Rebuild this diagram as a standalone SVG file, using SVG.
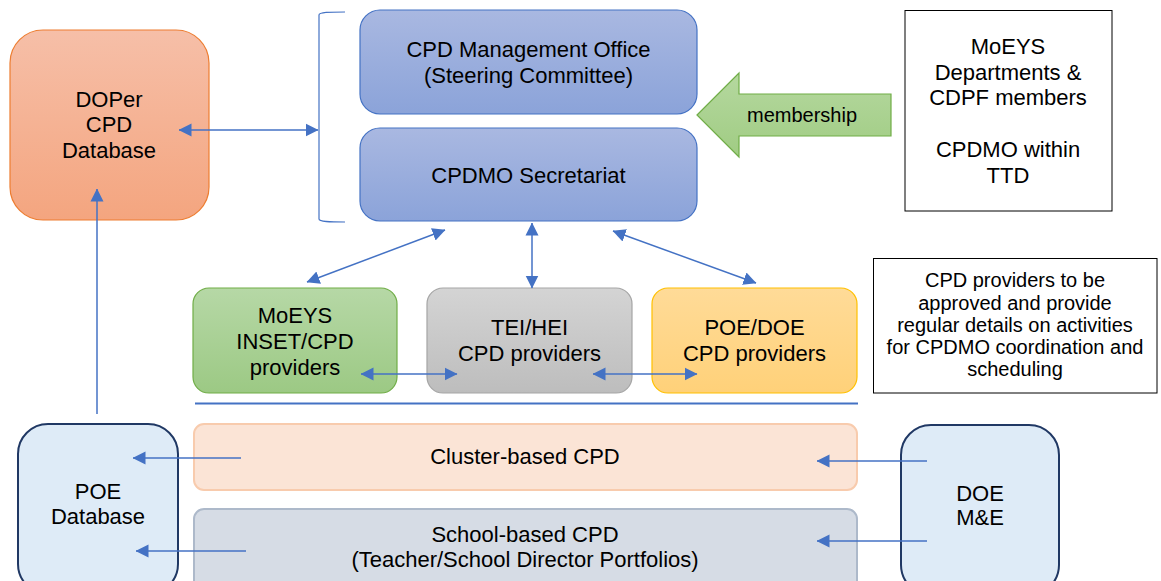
<svg xmlns="http://www.w3.org/2000/svg" width="1161" height="581" viewBox="0 0 1161 581">
<defs>
<linearGradient id="gOrange" x1="0" y1="0" x2="0" y2="1"><stop offset="0" stop-color="#F6BFA8"/><stop offset="1" stop-color="#F4A57F"/></linearGradient>
<linearGradient id="gBlue" x1="0" y1="0" x2="0" y2="1"><stop offset="0" stop-color="#A9B8E1"/><stop offset="1" stop-color="#8BA3D9"/></linearGradient>
<linearGradient id="gGreen" x1="0" y1="0" x2="0" y2="1"><stop offset="0" stop-color="#B6D8A6"/><stop offset="1" stop-color="#9CC984"/></linearGradient>
<linearGradient id="gGrey" x1="0" y1="0" x2="0" y2="1"><stop offset="0" stop-color="#D4D4D4"/><stop offset="1" stop-color="#BDBDBD"/></linearGradient>
<linearGradient id="gGold" x1="0" y1="0" x2="0" y2="1"><stop offset="0" stop-color="#FFDB98"/><stop offset="1" stop-color="#FFD179"/></linearGradient>
<linearGradient id="gMember" x1="0" y1="0" x2="0" y2="1"><stop offset="0" stop-color="#B5D89F"/><stop offset="1" stop-color="#A0CC83"/></linearGradient>
<marker id="ah" markerUnits="userSpaceOnUse" viewBox="0 0 13 14" markerWidth="13" markerHeight="14" refX="12.5" refY="7" orient="auto-start-reverse">
<path d="M0,0.5 L13,7 L0,13.5 Z" fill="#4472C4"/>
</marker>
<style>
text{font-family:"Liberation Sans",Arial,sans-serif;fill:#000;text-anchor:middle}
.t22{font-size:22px}
.t20{font-size:20px}
.conn{stroke:#4472C4;stroke-width:1.5;fill:none}
</style>
</defs>

<g id="doper">
<rect x="10" y="30" width="199" height="190" rx="33" fill="url(#gOrange)" stroke="#ED7D31" stroke-width="1.2"/>
<text class="t22" x="109" y="107">DOPer</text>
<text class="t22" x="109" y="132">CPD</text>
<text class="t22" x="109" y="158">Database</text>
</g>

<g id="bracket">
<path d="M345,12 C330,12 319,12 319,15 L319,219 C319,222 330,222 345,222" fill="none" stroke="#4472C4" stroke-width="1.2"/>
</g>

<g id="cpd-mo">
<rect x="360" y="10" width="337" height="104" rx="20" fill="url(#gBlue)" stroke="#4472C4" stroke-width="1.2"/>
<text class="t22" x="528.5" y="57">CPD Management Office</text>
<text class="t22" x="528.5" y="83">(Steering Committee)</text>
</g>

<g id="cpdmo-secretariat">
<rect x="360" y="128" width="337" height="93" rx="20" fill="url(#gBlue)" stroke="#4472C4" stroke-width="1.2"/>
<text class="t22" x="528.5" y="183">CPDMO Secretariat</text>
</g>

<g id="membership">
<polygon points="697,115 739,73 739,94 891,94 891,136 739,136 739,157" fill="url(#gMember)" stroke="#70AD47" stroke-width="1.2"/>
<text class="t20" x="802" y="122">membership</text>
</g>

<g id="moeys-departments">
<rect x="905" y="10.5" width="207" height="200.5" fill="#FFFFFF" stroke="#000" stroke-width="1"/>
<text class="t22" x="1008" y="54">MoEYS</text>
<text class="t22" x="1008" y="80">Departments &amp;</text>
<text class="t22" x="1008" y="105">CDPF members</text>
<text class="t22" x="1008" y="157">CPDMO within</text>
<text class="t22" x="1008" y="183">TTD</text>
</g>

<g id="moeys-inset">
<rect x="193" y="288" width="204" height="105" rx="16" fill="url(#gGreen)" stroke="#70AD47" stroke-width="1.2"/>
<text class="t22" x="295" y="323">MoEYS</text>
<text class="t22" x="295" y="349">INSET/CPD</text>
<text class="t22" x="295" y="375">providers</text>
</g>

<g id="tei-hei">
<rect x="427" y="288" width="205" height="105" rx="16" fill="url(#gGrey)" stroke="#A5A5A5" stroke-width="1.2"/>
<text class="t22" x="529.5" y="335">TEI/HEI</text>
<text class="t22" x="529.5" y="361">CPD providers</text>
</g>

<g id="poe-doe">
<rect x="652" y="288" width="205" height="105" rx="16" fill="url(#gGold)" stroke="#FFC000" stroke-width="1.2"/>
<text class="t22" x="754.5" y="335">POE/DOE</text>
<text class="t22" x="754.5" y="361">CPD providers</text>
</g>

<g id="note">
<rect x="873.5" y="258.5" width="283.5" height="134.5" fill="#FFFFFF" stroke="#000" stroke-width="1"/>
<text class="t20" x="1015" y="287">CPD providers to be</text>
<text class="t20" x="1015" y="309.5">approved and provide</text>
<text class="t20" x="1015" y="332">regular details on activities</text>
<text class="t20" x="1015" y="354">for CPDMO coordination and</text>
<text class="t20" x="1015" y="376">scheduling</text>
</g>

<g id="separator">
<line x1="195" y1="403.5" x2="858" y2="403.5" stroke="#4472C4" stroke-width="2"/>
</g>

<g id="cluster-cpd">
<rect x="194" y="424" width="663" height="66" rx="10" fill="#FBE4D6" stroke="#F8CBAD" stroke-width="2"/>
<text class="t22" x="525" y="464">Cluster-based CPD</text>
</g>

<g id="school-cpd">
<rect x="194" y="509" width="663" height="90" rx="10" fill="#D6DCE5" stroke="#ADB9CA" stroke-width="2"/>
<text class="t22" x="525" y="542">School-based CPD</text>
<text class="t22" x="525" y="567">(Teacher/School Director Portfolios)</text>
</g>

<g id="poe-database">
<rect x="18" y="424" width="160" height="170" rx="30" fill="#DEEBF7" stroke="#203864" stroke-width="2"/>
<text class="t22" x="98" y="499">POE</text>
<text class="t22" x="98" y="524">Database</text>
</g>

<g id="doe-me">
<rect x="901" y="425" width="158" height="170" rx="30" fill="#DEEBF7" stroke="#203864" stroke-width="2"/>
<text class="t22" x="980" y="501">DOE</text>
<text class="t22" x="980" y="525">M&amp;E</text>
</g>

<g id="connectors">
<line class="conn" x1="179" y1="130" x2="318" y2="130" marker-start="url(#ah)" marker-end="url(#ah)"/>
<line class="conn" x1="97" y1="414" x2="97" y2="189" marker-end="url(#ah)"/>
<line class="conn" x1="445" y1="230" x2="307" y2="282" marker-start="url(#ah)" marker-end="url(#ah)"/>
<line class="conn" x1="532" y1="223" x2="532" y2="288" marker-start="url(#ah)" marker-end="url(#ah)"/>
<line class="conn" x1="613" y1="231" x2="756" y2="283" marker-start="url(#ah)" marker-end="url(#ah)"/>
<line class="conn" x1="361" y1="374" x2="457" y2="374" marker-start="url(#ah)" marker-end="url(#ah)"/>
<line class="conn" x1="593" y1="374" x2="697" y2="374" marker-start="url(#ah)" marker-end="url(#ah)"/>
<line class="conn" x1="241" y1="458" x2="133" y2="458" marker-end="url(#ah)"/>
<line class="conn" x1="246" y1="551" x2="136" y2="551" marker-end="url(#ah)"/>
<line class="conn" x1="927" y1="461" x2="817" y2="461" marker-end="url(#ah)"/>
<line class="conn" x1="927" y1="541" x2="817" y2="541" marker-end="url(#ah)"/>
</g>
</svg>
